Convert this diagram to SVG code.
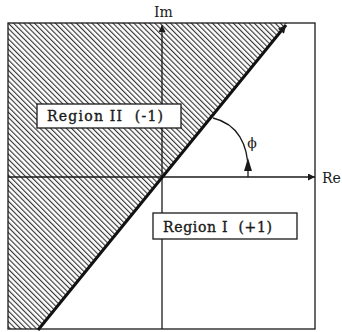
<svg xmlns="http://www.w3.org/2000/svg" width="342" height="332" viewBox="0 0 342 332">
<style>
.ln{stroke:#1a1a1a;stroke-width:1.3;fill:none}
.box{fill:#fff;stroke:#1a1a1a;stroke-width:1.3}
.lbl{font-family:"DejaVu Serif","Liberation Serif",serif;font-size:14px;fill:#1a1a1a;stroke:#1a1a1a;stroke-width:0.35;white-space:pre}
.ax{font-family:"DejaVu Serif","Liberation Serif",serif;font-size:14px;fill:#1a1a1a}
</style>
<defs>
<pattern id="hatch" patternUnits="userSpaceOnUse" width="3.7" height="10" patternTransform="rotate(-45)">
<line x1="0.6" y1="0" x2="0.6" y2="10" stroke="#1a1a1a" stroke-width="1"/>
</pattern>
<marker id="ah" viewBox="0 0 10 10" refX="10" refY="5" markerWidth="10" markerHeight="7" markerUnits="userSpaceOnUse" orient="auto">
<path d="M0,0 L10,5 L0,10 z" fill="#1a1a1a"/>
</marker>
<marker id="ahb" viewBox="0 0 10 10" refX="10" refY="5" markerWidth="14" markerHeight="8" markerUnits="userSpaceOnUse" orient="auto">
<path d="M0,0 L10,5 L0,10 z" fill="#1a1a1a"/>
</marker>
</defs>
<rect width="342" height="332" fill="#fff"/>
<g id="hatched-region">
<polygon points="8,23 287,23 38,329 8,329" fill="url(#hatch)"/>
</g>
<g id="frame">
<rect x="8" y="23" width="307" height="306" class="ln"/>
</g>
<g id="connectors">
<line id="re-axis" x1="8" y1="177" x2="315" y2="177" class="ln" marker-end="url(#ah)"/>
<line id="im-axis" x1="162" y1="329" x2="162" y2="25" class="ln" marker-end="url(#ah)"/>
<line id="boundary" x1="38" y1="330" x2="286" y2="25" stroke="#111" stroke-width="3" marker-end="url(#ahb)"/>
<path id="phi-arc" d="M248,177 L248,170 C248,145 238,124 213,118" class="ln"/>
<path d="M248,158 L244,171 L252,171 z" fill="#1a1a1a"/>
</g>
<g id="region2">
<rect x="37" y="104" width="144" height="24" class="box"/>
<text x="47" y="121" class="lbl" textLength="116" lengthAdjust="spacing" xml:space="preserve">Region II  (-1)</text>
</g>
<g id="region1">
<rect x="153" y="213" width="144" height="26" class="box"/>
<text x="163" y="232" class="lbl" textLength="109" lengthAdjust="spacing" xml:space="preserve">Region I  (+1)</text>
</g>
<g id="labels">
<text x="154" y="17" class="ax" font-size="15">Im</text>
<text x="322" y="183" class="ax" font-size="15">Re</text>
<text x="252" y="148" class="ax" font-size="11" text-anchor="middle">ϕ</text>
</g>
</svg>
